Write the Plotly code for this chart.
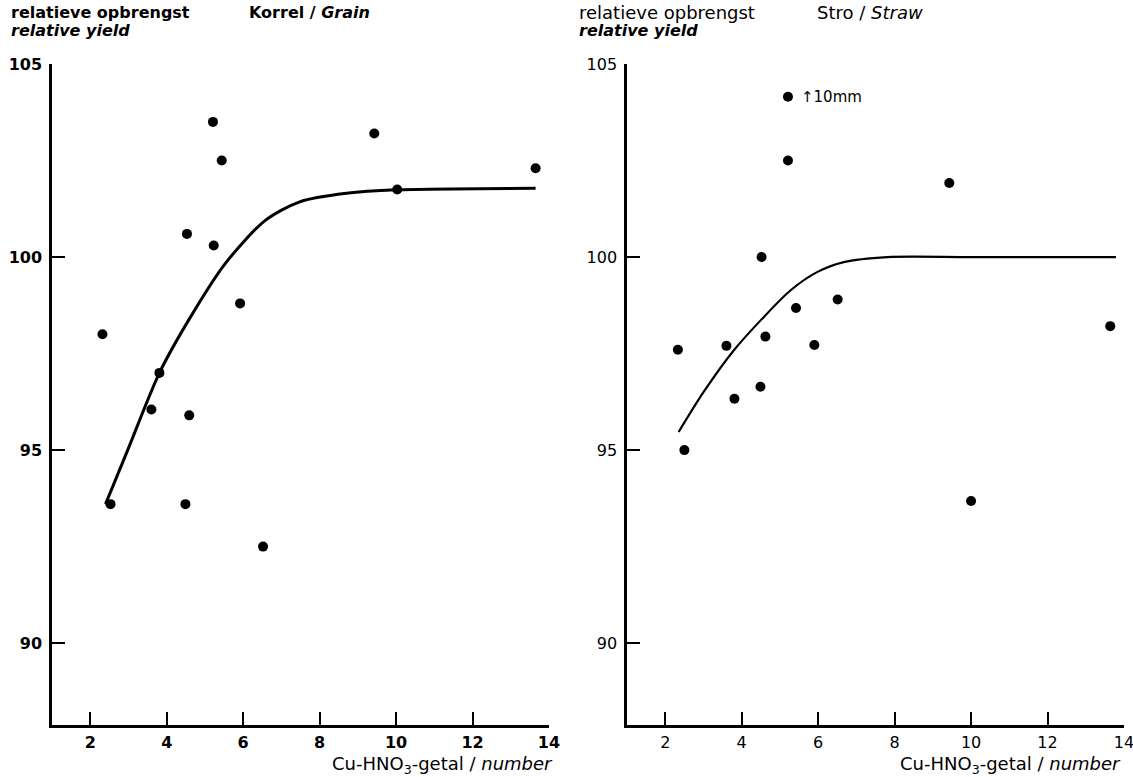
import plotly.graph_objects as go

# ---- data ----
grain_x = [2.32, 2.53, 3.60, 3.81, 4.49, 4.53, 4.59, 5.21, 5.23, 5.44, 5.92, 6.52, 9.43, 10.03, 13.65]
grain_y = [98.0, 93.6, 96.05, 97.0, 93.6, 100.6, 95.9, 103.5, 100.3, 102.5, 98.8, 92.5, 103.2, 101.75, 102.3]
grain_curve_x = [2.4, 2.98, 3.81, 4.57, 5.53, 6.58, 7.48, 8.7, 10.0, 13.65]
grain_curve_y = [93.6, 95.0, 97.0, 98.36, 99.83, 100.95, 101.43, 101.65, 101.74, 101.78]

straw_x = [2.33, 2.50, 3.60, 3.81, 4.49, 4.52, 4.62, 5.21, 5.21, 5.42, 5.90, 6.51, 9.43, 10.0, 13.64]
straw_y = [97.6, 95.0, 97.7, 96.33, 96.64, 100.0, 97.94, 104.15, 102.5, 98.68, 97.72, 98.9, 101.92, 93.68, 98.21]
straw_curve_x = [2.35, 3.0, 3.79, 4.58, 5.28, 5.97, 6.67, 7.81, 10.0, 13.79]
straw_curve_y = [95.47, 96.5, 97.58, 98.45, 99.14, 99.61, 99.87, 100.0, 100.0, 100.0]

x_ticks = [2, 4, 6, 8, 10, 12, 14]
y_ticks = [90, 95, 100, 105]

FONT = "DejaVu Sans, Liberation Sans, sans-serif"

W, H = 1133, 777
L, R, T, B = 52, 9, 64, 52
PW, PH = W - L - R, H - T - B


def px(x):  # window pixel -> paper x
    return (x - L) / PW


def py(y):  # window pixel -> paper y
    return (H - B - y) / PH


fig = go.Figure()

fig.add_trace(go.Scatter(x=grain_curve_x, y=grain_curve_y, mode="lines",
                         line=dict(color="black", width=3, shape="spline", smoothing=0.8),
                         xaxis="x", yaxis="y", showlegend=False, hoverinfo="skip"))
fig.add_trace(go.Scatter(x=grain_x, y=grain_y, mode="markers",
                         marker=dict(color="black", size=10),
                         xaxis="x", yaxis="y", showlegend=False))
fig.add_trace(go.Scatter(x=straw_curve_x, y=straw_curve_y, mode="lines",
                         line=dict(color="black", width=2.2, shape="spline", smoothing=0.8),
                         xaxis="x2", yaxis="y2", showlegend=False, hoverinfo="skip"))
fig.add_trace(go.Scatter(x=straw_x, y=straw_y, mode="markers",
                         marker=dict(color="black", size=10),
                         xaxis="x2", yaxis="y2", showlegend=False))


def xaxis_cfg(bold):
    return dict(range=[1, 14], tickvals=x_ticks, showline=True, linecolor="black", linewidth=2.5,
                ticks="inside", ticklen=13, tickwidth=2, tickcolor="black", showgrid=False,
                zeroline=False, ticklabelstandoff=1, automargin=False, ticklabeloverflow="allow",
                tickfont=dict(family=FONT, size=16, color="black", weight="bold" if bold else "normal"))


def yaxis_cfg(bold):
    return dict(range=[87.88, 105], tickvals=y_ticks, showline=True, linecolor="black", linewidth=2.5,
                ticks="inside", ticklen=13, tickwidth=2, tickcolor="black", showgrid=False,
                zeroline=False, ticklabelstandoff=4, automargin=False, ticklabeloverflow="allow",
                tickfont=dict(family=FONT, size=16, color="black", weight="bold" if bold else "normal"))


fig.update_layout(
    width=W, height=H,
    paper_bgcolor="white", plot_bgcolor="white",
    margin=dict(l=L, r=R, t=T, b=B, autoexpand=False),
    xaxis=dict(xaxis_cfg(True), domain=[0, 0.4636], anchor="y"),
    yaxis=dict(yaxis_cfg(True), domain=[0, 1], anchor="x"),
    xaxis2=dict(xaxis_cfg(False), domain=[0.5364, 1], anchor="y2"),
    yaxis2=dict(yaxis_cfg(False), domain=[0, 1], anchor="x2"),
)

annotations = [
    dict(text="<b>relatieve opbrengst</b>", x=9, y=13, size=16, anchor="left"),
    dict(text="<b><i>relative yield</i></b>", x=9, y=31, size=16, anchor="left"),
    dict(text="<b>Korrel / <i>Grain</i></b>", x=247, y=13, size=16, anchor="left"),
    dict(text="relatieve opbrengst", x=577, y=13, size=18, anchor="left"),
    dict(text="<b><i>relative yield</i></b>", x=577, y=31, size=16, anchor="left"),
    dict(text="Stro / <i>Straw</i>", x=815, y=13, size=18, anchor="left"),
    dict(text="Cu-HNO<sub>3</sub>-getal / <i>number</i>", x=555, y=765, size=18, anchor="right"),
    dict(text="Cu-HNO<sub>3</sub>-getal / <i>number</i>", x=1123, y=765, size=18, anchor="right"),
]
for a in annotations:
    fig.add_annotation(text=a["text"], x=px(a["x"]), y=py(a["y"]),
                       xref="paper", yref="paper", xanchor=a["anchor"], yanchor="middle",
                       showarrow=False, font=dict(family=FONT, size=a["size"], color="black"))

fig.add_annotation(text="↑10mm", x=5.5, y=104.15, xref="x2", yref="y2",
                   xanchor="left", yanchor="middle", showarrow=False,
                   font=dict(family=FONT, size=15, color="black"))

fig.write_html(
    "out.html",
    config={"displayModeBar": False},
    post_script="document.body.style.margin='0px';document.body.style.padding='0px';"
                "document.body.style.overflow='hidden';",
)
